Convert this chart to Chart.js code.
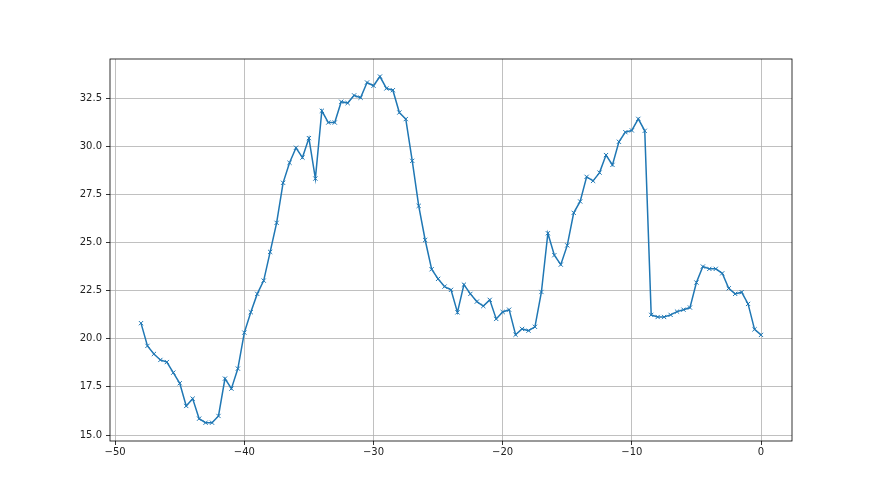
<!DOCTYPE html>
<html>
<head>
<meta charset="utf-8">
<script src="https://cdn.jsdelivr.net/npm/chart.js@4/dist/chart.umd.min.js"></script>
<style>
  html, body { margin: 0; padding: 0; background: #fff; }
  #wrap { width: 880px; height: 495px; }
</style>
</head>
<body>
<div id="wrap"><canvas id="line_chart" width="880" height="495"></canvas></div>
<script>
// x positions go from -48 to 0 in steps of 0.5
var xValues = [
  -48, -47.5, -47, -46.5, -46, -45.5, -45, -44.5, -44, -43.5, -43, -42.5, -42, -41.5, -41, -40.5,
  -40, -39.5, -39, -38.5, -38, -37.5, -37, -36.5, -36, -35.5, -35, -34.5, -34, -33.5, -33, -32.5,
  -32, -31.5, -31, -30.5, -30, -29.5, -29, -28.5, -28, -27.5, -27, -26.5, -26, -25.5, -25, -24.5,
  -24, -23.5, -23, -22.5, -22, -21.5, -21, -20.5, -20, -19.5, -19, -18.5, -18, -17.5, -17, -16.5,
  -16, -15.5, -15, -14.5, -14, -13.5, -13, -12.5, -12, -11.5, -11, -10.5, -10, -9.5, -9, -8.5,
  -8, -7.5, -7, -6.5, -6, -5.5, -5, -4.5, -4, -3.5, -3, -2.5, -2, -1.5, -1, -0.5, 0
];
var yValues = [
  20.81, 19.63, 19.21, 18.90, 18.79, 18.24, 17.69, 16.51, 16.89, 15.85, 15.64, 15.64, 15.99, 17.93, 17.41, 18.45,
  20.32, 21.38, 22.33, 23.02, 24.51, 26.02, 28.10, 29.14, 29.92, 29.41, 30.42, 28.32, 31.84, 31.23, 31.23, 32.31,
  32.24, 32.64, 32.52, 33.31, 33.14, 33.62, 33.00, 32.91, 31.75, 31.41, 29.24, 26.90, 25.13, 23.61, 23.11, 22.71,
  22.54, 21.37, 22.81, 22.33, 21.93, 21.70, 22.02, 21.03, 21.39, 21.51, 20.21, 20.51, 20.42, 20.62, 22.43, 25.48,
  24.34, 23.85, 24.85, 26.54, 27.13, 28.41, 28.20, 28.63, 29.54, 29.03, 30.23, 30.73, 30.82, 31.42, 30.80, 21.24,
  21.13, 21.13, 21.24, 21.41, 21.51, 21.62, 22.92, 23.75, 23.63, 23.63, 23.40, 22.62, 22.33, 22.42, 21.81, 20.49, 20.20
];
var xTicks = [-50, -40, -30, -20, -10, 0];
var yTicks = [15.0, 17.5, 20.0, 22.5, 25.0, 27.5, 30.0, 32.5];

var points = xValues.map(function (x, i) { return { x: x, y: yValues[i] }; });

// draw the full box around the plot like matplotlib spines
var boxPlugin = {
  id: 'box',
  afterDraw: function (chart) {
    var a = chart.chartArea, c = chart.ctx;
    c.save();
    c.strokeStyle = '#000';
    c.lineWidth = 0.8;
    c.strokeRect(a.left, a.top, a.right - a.left, a.bottom - a.top);
    c.restore();
  }
};

var ctx = document.getElementById('line_chart').getContext('2d');
var myChart = new Chart(ctx, {
  type: 'line',
  data: {
    datasets: [{
      data: points,
      borderColor: '#1f77b4',
      backgroundColor: '#1f77b4',
      borderWidth: 1.5,
      pointStyle: 'crossRot',
      pointRadius: 3,
      pointBorderWidth: 1,
      pointBorderColor: '#1f77b4',
      pointHoverRadius: 3,
      tension: 0,
      fill: false
    }]
  },
  options: {
    responsive: false,
    animation: false,
    layout: { padding: { top: 59, right: 88, bottom: 0, left: 0 } },
    plugins: { legend: { display: false }, tooltip: { enabled: false } },
    scales: {
      x: {
        type: 'linear',
        min: -50.4,
        max: 2.4,
        afterBuildTicks: function (s) { s.ticks = xTicks.map(function (v) { return { value: v }; }); },
        afterFit: function (s) { s.height = 54; },
        grid: { color: '#b0b0b0', lineWidth: 0.8, tickColor: '#000', tickLength: 4 },
        border: { display: false },
        ticks: {
          padding: 1,
          color: '#222',
          font: { family: 'DejaVu Sans', size: 10 },
          maxRotation: 0,
          callback: function (v) { return String(v).replace('-', '\u2212'); }
        }
      },
      y: {
        min: 14.69,
        max: 34.53,
        afterBuildTicks: function (s) { s.ticks = yTicks.map(function (v) { return { value: v }; }); },
        afterFit: function (s) { s.width = 110; },
        grid: { color: '#b0b0b0', lineWidth: 0.8, tickColor: '#000', tickLength: 4 },
        border: { display: false },
        ticks: {
          padding: 4,
          color: '#222',
          font: { family: 'DejaVu Sans', size: 10 },
          callback: function (v) { return v.toFixed(1); }
        }
      }
    }
  },
  plugins: [boxPlugin]
});
</script>
</body>
</html>
